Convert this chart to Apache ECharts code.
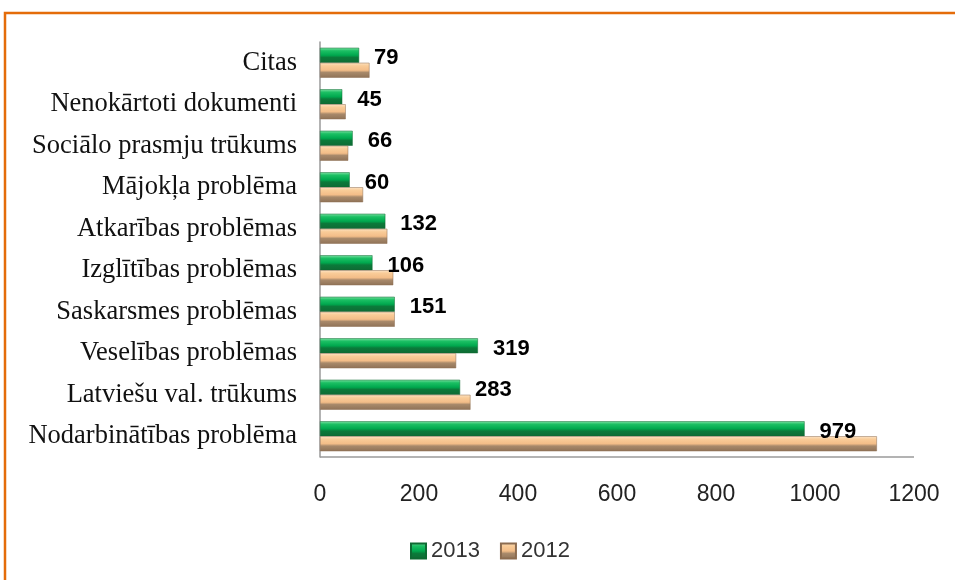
<!DOCTYPE html>
<html>
<head>
<meta charset="utf-8">
<script src="https://cdn.jsdelivr.net/npm/echarts@6/dist/echarts.min.js"></script>
<style>
  html, body { margin: 0; padding: 0; background: #fff; }
  #chart { width: 955px; height: 580px; }
</style>
</head>
<body>
<div id="chart"></div>
<script>
// kategorijas no apakšas uz augšu
var categories = [
  'Nodarbinātības problēma',
  'Latviešu val. trūkums',
  'Veselības problēmas',
  'Saskarsmes problēmas',
  'Izglītības problēmas',
  'Atkarības problēmas',
  'Mājokļa problēma',
  'Sociālo prasmju trūkums',
  'Nenokārtoti dokumenti',
  'Citas'
];
var values2013 = [979, 283, 319, 151, 106, 132, 60, 66, 45, 79];
var values2012 = [1125, 304, 275, 151, 148, 136, 87, 57, 52, 100];
var xTicks = [0, 200, 400, 600, 800, 1000, 1200];

var greenFill = new echarts.graphic.LinearGradient(0, 0, 0, 1, [
  { offset: 0, color: '#7fe0a4' },
  { offset: 0.2, color: '#1cc064' },
  { offset: 0.5, color: '#00a84e' },
  { offset: 0.65, color: '#0b7a3a' },
  { offset: 1, color: '#0f6a34' }
]);
var tanFill = new echarts.graphic.LinearGradient(0, 0, 0, 1, [
  { offset: 0, color: '#fde3c4' },
  { offset: 0.2, color: '#f9cc98' },
  { offset: 0.5, color: '#f3bd88' },
  { offset: 0.65, color: '#a8896a' },
  { offset: 1, color: '#8f7257' }
]);

var chart = echarts.init(document.getElementById('chart'));
chart.setOption({
  animation: false,
  backgroundColor: '#fff',
  graphic: [{
    type: 'rect',
    shape: { x: 5, y: 13, width: 1000, height: 700 },
    style: { fill: 'none', stroke: '#e46c0a', lineWidth: 2.5 },
    silent: true
  }, {
    // x ass līnija apakšā
    type: 'line',
    shape: { x1: 320, y1: 457, x2: 914, y2: 457 },
    style: { stroke: '#9a9a9a', lineWidth: 1.5 },
    silent: true
  }],
  grid: { left: 320, right: 41, top: 42, bottom: 123 },
  legend: {
    bottom: 13,
    left: 405,
    itemWidth: 15,
    itemHeight: 15,
    itemGap: 20,
    icon: 'rect',
    textStyle: { fontFamily: 'Liberation Sans', fontSize: 22, color: '#333' },
    data: ['2013', '2012']
  },
  xAxis: {
    type: 'value',
    min: 0,
    max: 1200,
    interval: 200,
    splitLine: { show: false },
    axisTick: { show: false },
    axisLine: { show: false },
    axisLabel: {
      margin: 26,
      fontFamily: 'Liberation Sans',
      fontSize: 23,
      color: '#222',
      formatter: function (v) { return xTicks.indexOf(v) >= 0 ? String(v) : ''; }
    }
  },
  yAxis: {
    type: 'category',
    data: categories,
    axisTick: { show: false },
    axisLine: { show: true, lineStyle: { color: '#9a9a9a', width: 1.5 } },
    axisLabel: {
      margin: 23,
      fontFamily: 'Liberation Serif',
      fontSize: 26.5,
      color: '#111'
    }
  },
  series: [
    {
      name: '2013',
      type: 'bar',
      data: values2013,
      barWidth: 15,
      barGap: '0%',
      itemStyle: { color: greenFill, borderColor: '#0e6a33', borderWidth: 0.5 },
      label: {
        show: true,
        position: 'right',
        distance: 15,
        offset: [0, 3],
        fontFamily: 'Liberation Sans',
        fontWeight: 'bold',
        fontSize: 22,
        color: '#000'
      }
    },
    {
      name: '2012',
      type: 'bar',
      data: values2012,
      barWidth: 15,
      barGap: '0%',
      itemStyle: { color: tanFill, borderColor: '#8c6c50', borderWidth: 0.5 }
    }
  ]
});
</script>
</body>
</html>
